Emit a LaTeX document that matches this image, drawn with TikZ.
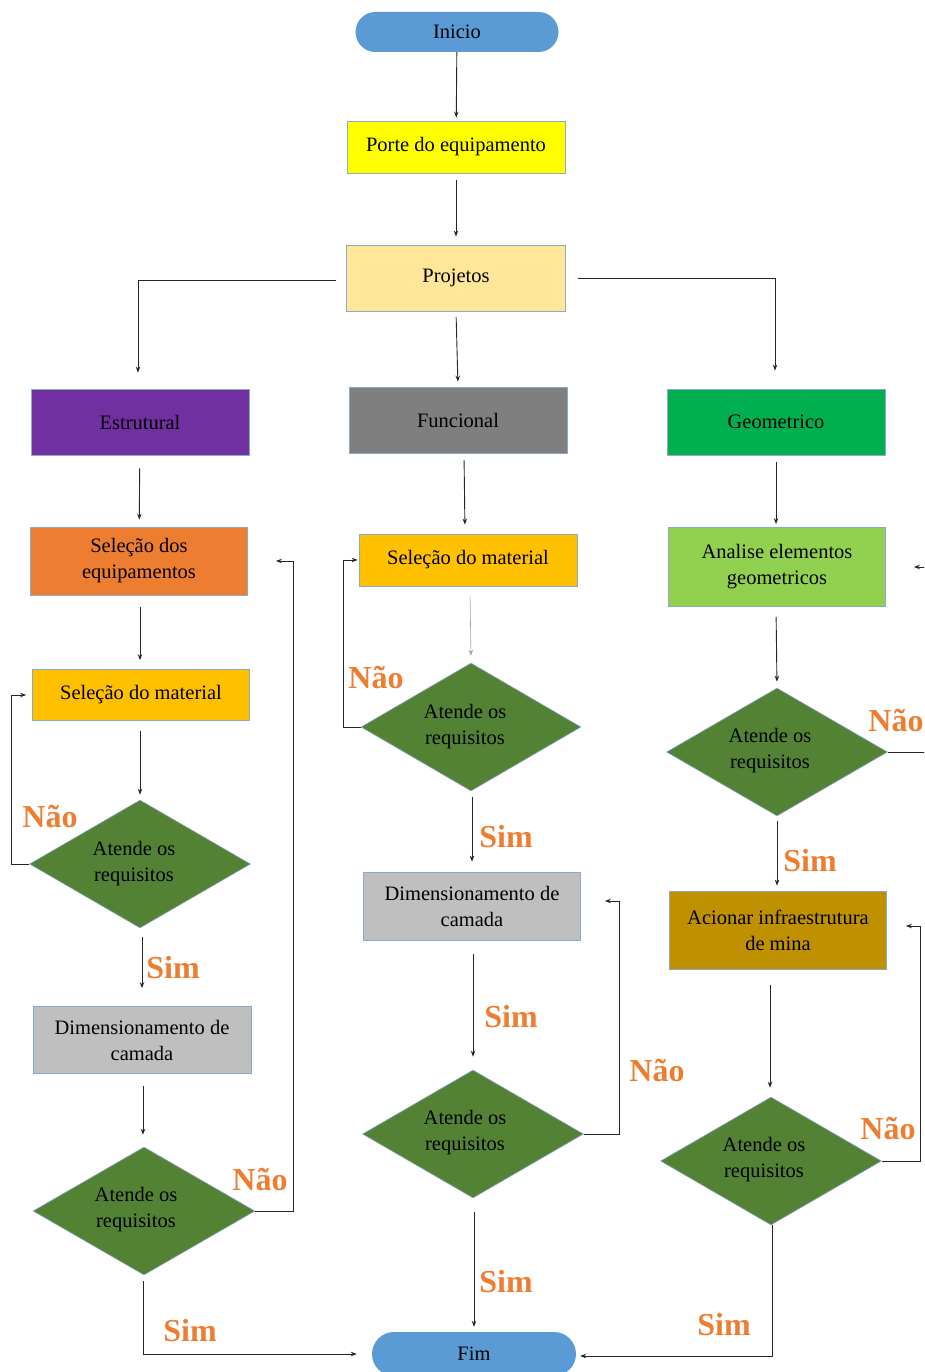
\documentclass[tikz,border=0pt]{standalone}
\usepackage{fontspec}
\setmainfont{Liberation Serif}
\newfontfamily\tnr{Liberation Serif}
\usetikzlibrary{shapes.geometric,arrows.meta}
\definecolor{cblue}{HTML}{5B9BD5}
\definecolor{cyel}{HTML}{FFFF00}
\definecolor{cproj}{HTML}{FFE699}
\definecolor{cpurp}{HTML}{7030A0}
\definecolor{cgray}{HTML}{7F7F7F}
\definecolor{cgreen}{HTML}{00B050}
\definecolor{corange}{HTML}{ED7D31}
\definecolor{cgold}{HTML}{FFC000}
\definecolor{cdia}{HTML}{548235}
\definecolor{clgray}{HTML}{BFBFBF}
\definecolor{clime}{HTML}{92D050}
\definecolor{cdgold}{HTML}{BF9000}
\definecolor{cborder}{HTML}{8EA9C8}
\definecolor{cline}{HTML}{262626}
\begin{document}
\begin{tikzpicture}[x=1pt,y=-1pt,
  txt/.style={font=\tnr\fontsize{20.5}{26}\selectfont, text=black, align=center},
  boxn/.style={txt, draw=cborder, line width=0.8pt, minimum width=218pt, inner sep=0pt},
  term/.style={txt, fill=cblue, rounded corners=20pt, minimum width=203pt, minimum height=40pt, inner sep=0pt},
  dec/.style={txt, diamond, aspect=1.73, fill=cdia, draw=cborder, line width=0.6pt, minimum width=221pt, minimum height=128pt, inner sep=0pt},
  dtext/.style={txt, inner sep=0pt},
  arr/.style={draw=cline, line width=0.9pt, -{Stealth[length=6pt,width=4.5pt]}},
  lbl/.style={font=\tnr\bfseries\fontsize{32}{36}\selectfont, text=corange}
]
\useasboundingbox (0,0) rectangle (924,1372);
\clip (0,0) rectangle (924,1372);

% top
\node[term] (ini) at (457,32) {Inicio};
\node[boxn, fill=cyel, minimum height=52pt] (porte) at (456,147) {Porte do equipamento};
\node[boxn, fill=cproj, minimum height=66pt, minimum width=219pt] (proj) at (456,278) {Projetos};

% level 2
\node[boxn, fill=cpurp, minimum height=66pt] (estr) at (140,422) {Estrutural};
\node[boxn, fill=cgray, minimum height=66pt] (func) at (458,420) {Funcional};
\node[boxn, fill=cgreen, minimum height=66pt] (geo) at (776,422) {Geometrico};

% left column
\node[boxn, fill=corange, minimum height=68pt, minimum width=217pt] (selEq) at (139,561) {Seleção dos\\equipamentos};
\node[boxn, fill=cgold, minimum height=51pt, minimum width=217pt] (matL) at (141,695) {Seleção do material};
\node[dec] (dl1) at (140,864) {};
\node[dtext] at (134,864) {Atende os\\requisitos};
\node[boxn, fill=clgray, minimum height=67pt] (dimL) at (142,1040) {Dimensionamento de\\camada};
\node[dec, minimum width=222pt] (dl2) at (144,1211) {};
\node[dtext] at (136,1210) {Atende os\\requisitos};

% middle column
\node[boxn, fill=cgold, minimum height=52pt] (matM) at (468,560) {Seleção do material};
\node[dec, minimum width=220pt] (dm1) at (471,727) {};
\node[dtext] at (465,727) {Atende os\\requisitos};
\node[boxn, fill=clgray, minimum height=68pt, minimum width=217pt] (dimM) at (472,906) {Dimensionamento de\\camada};
\node[dec] (dm2) at (473,1134) {};
\node[dtext] at (465,1133) {Atende os\\requisitos};
\node[term, minimum height=44pt, minimum width=204pt, rounded corners=22pt] (fim) at (474,1354) {Fim};

% right column
\node[boxn, fill=clime, minimum height=79pt, minimum width=217pt] (anal) at (777,567) {Analise elementos\\geometricos};
\node[dec] (dr1) at (777,752) {};
\node[dtext] at (770,751) {Atende os\\requisitos};
\node[boxn, fill=cdgold, minimum height=78pt, minimum width=217pt] (acio) at (778,930) {Acionar infraestrutura\\de mina};
\node[dec] (dr2) at (771,1161) {};
\node[dtext] at (764,1160) {Atende os\\requisitos};

% top connectors
\draw[arr, shorten >=3pt] (ini) -- (porte);
\draw[arr, shorten <=7pt, shorten >=8pt] (porte) -- (proj);
\draw[arr, shorten <=10pt, shorten >=16pt] ([yshift=-2pt]proj.west) -| ([xshift=-2pt]estr.north);
\draw[arr, shorten <=12pt, shorten >=18pt] (proj.east) -| ([xshift=-1pt]geo.north);
\draw[arr, shorten <=6pt, shorten >=5pt] (proj.south) -- (func.north);

% left column connectors
\draw[arr, shorten <=13pt, shorten >=7pt] (estr) -- (selEq);
\draw[arr, shorten <=12pt, shorten >=9pt] ([xshift=1pt]selEq.south) -- ([xshift=-1pt]matL.north);
\draw[arr, shorten <=10pt, shorten >=5pt] ([xshift=-1pt]matL.south) -- (dl1.north);
\draw[arr, shorten >=6pt] (dl1.west) -- ++(-18,0) coordinate (cl1) |- (matL.west);
\draw[arr, shorten <=9pt, shorten >=18pt] ([xshift=2pt]dl1.south) -- (dimL.north);
\draw[arr, shorten <=12pt, shorten >=12pt] ([xshift=1pt]dimL.south) -- ([xshift=-1pt]dl2.north);
\draw[arr, shorten >=28pt] (dl2.east) -- ++(38,0) coordinate (cl2) |- (selEq.east);
\draw[arr, shorten <=6pt, shorten >=15pt] ([xshift=-1pt]dl2.south) |- (fim.west);

% middle column connectors
\draw[arr, shorten <=7pt, shorten >=9pt] ([xshift=6pt]func.south) -- ([xshift=-3pt]matM.north);
\draw[draw=gray!70, line width=0.6pt, -{Stealth[length=6pt,width=4.5pt]}, shorten <=10pt, shorten >=7pt] ([xshift=2pt]matM.south) -- (dm1.north);
\draw[arr, shorten >=1pt] (dm1.west) -- ++(-17,0) coordinate (cm1) |- (matM.west);
\draw[arr, shorten <=6pt, shorten >=10pt] ([xshift=1pt]dm1.south) -- (dimM.north);
\draw[arr, shorten <=14pt, shorten >=13pt] ([xshift=1pt]dimM.south) -- (dm2.north);
\draw[arr, shorten >=24pt] (dm2.east) -- ++(36,0) coordinate (cm2) |- ([yshift=5pt]dimM.east);
\draw[arr, shorten <=14pt, shorten >=5pt] ([xshift=1pt]dm2.south) -- (fim.north);

% right column connectors
\draw[arr, shorten <=7pt, shorten >=3pt] (geo.south) -- ([xshift=-1pt]anal.north);
\draw[arr, shorten <=10pt, shorten >=6pt] ([xshift=-1pt]anal.south) -- (dr1.north);
\draw[arr, shorten >=28pt] (dr1.east) -- ++(48,0) coordinate (cr1) |- (anal.east);
\draw[arr, shorten <=5pt, shorten >=5pt] (dr1.south) -- ([xshift=-1pt]acio.north);
\draw[arr, shorten <=16pt, shorten >=9pt] ([xshift=-8pt]acio.south) -- ([xshift=-1pt]dr2.north);
\draw[arr, shorten >=19pt] (dr2.east) -- ++(39,0) coordinate (cr2) |- ([yshift=4pt]acio.east);
\draw[arr, shorten >=4pt] ([xshift=1pt]dr2.south) |- ([yshift=-2pt]fim.east);

% labels
\node[lbl] at (50,816) {Não};
\node[lbl] at (173,968) {Sim};
\node[lbl] at (260,1179) {Não};
\node[lbl] at (190,1331) {Sim};
\node[lbl] at (376,678) {Não};
\node[lbl] at (506,837) {Sim};
\node[lbl] at (511,1017) {Sim};
\node[lbl] at (657,1070) {Não};
\node[lbl] at (506,1282) {Sim};
\node[lbl] at (896,721) {Não};
\node[lbl] at (810,861) {Sim};
\node[lbl] at (888,1128) {Não};
\node[lbl] at (724,1325) {Sim};
\end{tikzpicture}
\end{document}
